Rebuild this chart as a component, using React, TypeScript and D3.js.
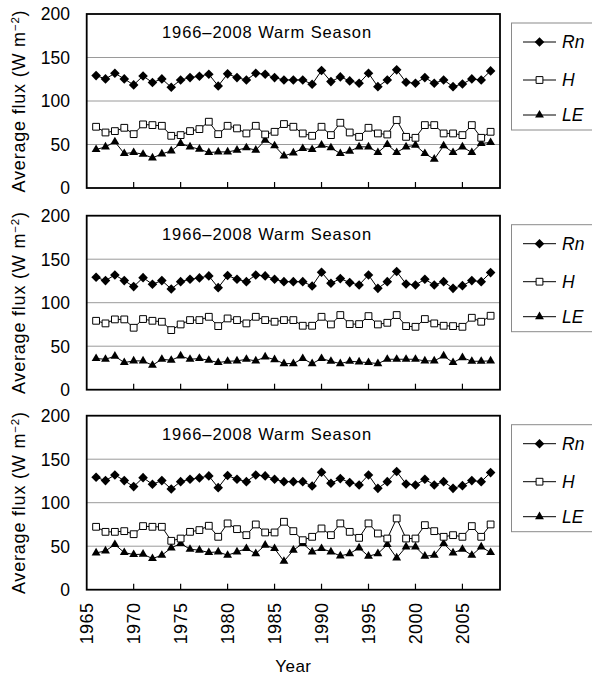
import React from 'react';
import * as d3 from 'd3';

// Annual warm-season averages, 1966–2008
const years = [
  1966, 1967, 1968, 1969, 1970, 1971, 1972, 1973, 1974, 1975, 1976, 1977, 1978, 1979, 1980,
  1981, 1982, 1983, 1984, 1985, 1986, 1987, 1988, 1989, 1990, 1991, 1992, 1993, 1994, 1995,
  1996, 1997, 1998, 1999, 2000, 2001, 2002, 2003, 2004, 2005, 2006, 2007, 2008,
];

// Net radiation (shared by all three panels)
const rn = [
  129.2, 125.4, 131.9, 125.4, 118.5, 128.8, 121.2, 125.4, 115.8, 124.2, 126.9, 128.5, 130.8, 117.3, 131.2,
  126.9, 124.2, 131.9, 130.8, 126.9, 124.2, 124.2, 124.2, 119.2, 135.0, 122.3, 127.7, 123.1, 120.4, 131.9,
  116.5, 124.2, 135.8, 121.5, 120.4, 126.9, 120.4, 124.2, 116.5, 119.6, 125.4, 124.2, 134.6,
];

// Panel 1
const h1 = [
  70.4, 63.8, 65.4, 69.2, 61.9, 73.1, 72.3, 71.5, 60.0, 60.8, 65.4, 67.7, 76.2, 61.9, 71.5,
  68.5, 62.7, 71.5, 61.5, 64.6, 73.5, 70.4, 62.7, 60.0, 70.4, 60.8, 75.0, 63.8, 58.8, 69.2,
  62.7, 61.5, 78.1, 58.8, 57.7, 72.3, 72.3, 62.7, 62.7, 60.8, 72.3, 57.7, 64.6,
];
const le1 = [
  44.2, 47.3, 53.1, 39.6, 40.8, 38.8, 34.6, 39.2, 42.7, 51.2, 47.3, 44.6, 40.8, 41.5, 41.5,
  43.5, 46.2, 43.5, 55.0, 48.5, 36.9, 40.4, 45.4, 44.2, 49.2, 46.2, 39.6, 42.3, 47.3, 47.3,
  40.8, 50.0, 40.8, 47.3, 49.2, 39.6, 33.1, 48.5, 40.8, 47.3, 40.8, 51.2, 52.3,
];

// Panel 2
const h2 = [
  79.2, 76.2, 80.8, 80.8, 71.2, 81.2, 79.2, 78.1, 68.5, 75.0, 80.0, 80.0, 83.8, 73.1, 81.9,
  80.0, 76.2, 83.8, 80.0, 78.1, 80.0, 80.0, 73.5, 73.5, 83.8, 75.0, 85.8, 75.4, 75.4, 84.6,
  75.0, 76.9, 85.8, 73.1, 72.3, 81.2, 76.2, 73.5, 73.1, 72.3, 82.7, 78.1, 85.0,
];
const le2 = [
  35.8, 35.0, 38.5, 31.2, 33.1, 33.1, 28.1, 35.0, 33.8, 38.8, 35.0, 35.8, 33.8, 31.2, 32.7,
  33.1, 35.0, 33.1, 37.7, 34.6, 30.0, 30.0, 35.8, 30.0, 35.8, 32.7, 30.0, 32.7, 31.9, 31.2,
  30.0, 35.0, 35.0, 35.0, 35.0, 33.1, 33.1, 38.8, 31.2, 36.9, 32.7, 32.7, 33.1,
];

// Panel 3
const h3 = [
  72.3, 66.5, 66.5, 67.3, 63.8, 73.1, 72.3, 72.3, 56.2, 58.8, 66.5, 68.5, 73.5, 60.8, 76.2,
  69.6, 62.7, 75.0, 65.8, 65.8, 78.1, 67.3, 56.9, 60.8, 70.4, 62.7, 76.2, 66.5, 59.6, 76.2,
  64.6, 58.8, 81.9, 58.8, 58.8, 74.2, 67.3, 60.8, 62.7, 60.8, 73.1, 60.8, 75.0,
];
const le3 = [
  42.3, 44.6, 51.9, 42.7, 40.4, 40.8, 35.8, 39.6, 48.1, 53.1, 46.5, 45.4, 42.7, 43.5, 39.6,
  43.5, 47.3, 41.5, 51.2, 47.3, 32.7, 45.4, 53.1, 43.5, 47.3, 43.5, 38.8, 41.5, 48.1, 38.5,
  41.5, 51.9, 36.5, 49.2, 49.2, 38.5, 39.6, 53.1, 42.3, 46.5, 39.6, 49.2, 42.7,
];

const panelTitle = '1966\u20132008 Warm Season';
const yTicks = [0, 50, 100, 150, 200];
const xTicks = [1965, 1970, 1975, 1980, 1985, 1990, 1995, 2000, 2005];
const seriesNames = ['Rn', 'H', 'LE'];

const panelData = [
  { h: h1, le: le1 },
  { h: h2, le: le2 },
  { h: h3, le: le3 },
];

const W = 592;
const HGT = 681;
const plotLeft = 86.7;
const plotRight = 500;
const panelTops = [14, 215.7, 415.7];
const panelH = 174;
const FONT = '"Liberation Sans", Arial, sans-serif';

const x = d3.scaleLinear().domain([1965, 2009]).range([plotLeft, plotRight]);

const diamond = d3.symbol().type(d3.symbolSquare).size(46)()!;
const square = d3.symbol().type(d3.symbolSquare).size(46)()!;
const triangle = d3.symbol().type(d3.symbolTriangle).size(34)()!;

type Kind = 'Rn' | 'H' | 'LE';

function Marker({ kind, cx, cy }: { kind: Kind; cx: number; cy: number }) {
  if (kind === 'Rn') {
    return <path d={diamond} transform={`translate(${cx},${cy}) rotate(45)`} fill="#000" />;
  }
  if (kind === 'H') {
    return (
      <path d={square} transform={`translate(${cx},${cy})`} fill="#fff" stroke="#000" strokeWidth={1} />
    );
  }
  return <path d={triangle} transform={`translate(${cx},${cy})`} fill="#000" />;
}

function Series({ values, kind, y }: { values: number[]; kind: Kind; y: d3.ScaleLinear<number, number> }) {
  const pts = years.map((yr, i) => [x(yr), y(values[i])] as [number, number]);
  const line = d3.line()(pts) || '';
  return (
    <g>
      <path d={line} fill="none" stroke="#000" strokeWidth={1} />
      {pts.map(([cx, cy], i) => (
        <Marker key={i} kind={kind} cx={cx} cy={cy} />
      ))}
    </g>
  );
}

function Panel({ index }: { index: number }) {
  const top = panelTops[index];
  const bottom = top + panelH;
  const y = d3.scaleLinear().domain([0, 200]).range([bottom, top]);
  const { h, le } = panelData[index];
  const legendTop = top + 9;
  const rowOffsets = [28, 66, 101];
  const kinds: Kind[] = ['Rn', 'H', 'LE'];
  return (
    <g>
      {yTicks
        .filter((t) => t > 0 && t < 200)
        .map((t) => (
          <line key={t} x1={plotLeft} x2={plotRight} y1={y(t)} y2={y(t)} stroke="#9a9a9a" strokeWidth={1} />
        ))}
      {xTicks
        .filter((t) => t > 1965)
        .map((t) => (
          <line key={t} x1={x(t)} x2={x(t)} y1={bottom} y2={bottom - 6} stroke="#000" strokeWidth={1.2} />
        ))}
      {yTicks.map((t) => (
        <text key={t} x={70} y={y(t)} dy="0.36em" textAnchor="end" fontSize={17.5} fontFamily={FONT} fill="#000">
          {t}
        </text>
      ))}
      <text
        transform={`translate(25,${(top + bottom) / 2}) rotate(-90)`}
        textAnchor="middle"
        fontSize={18}
        fontFamily={FONT}
        fill="#000"
        letterSpacing={0.8}
      >
        Average flux (W m
        <tspan dy={-6} fontSize={11.5}>
          −2
        </tspan>
        <tspan dy={6}>)</tspan>
      </text>
      <text x={162} y={top + 24} fontSize={16.5} fontFamily={FONT} fill="#000" letterSpacing={0.9}>
        {panelTitle}
      </text>
      <Series values={le} kind="LE" y={y} />
      <Series values={h} kind="H" y={y} />
      <Series values={rn} kind="Rn" y={y} />
      <rect
        x={plotLeft}
        y={top}
        width={plotRight - plotLeft}
        height={panelH}
        fill="none"
        stroke="#000"
        strokeWidth={1.8}
      />
      <rect x={511.5} y={legendTop} width={95} height={107} fill="#fff" stroke="#8a8a8a" strokeWidth={1} />
      {kinds.map((k, i) => {
        const ry = top + rowOffsets[i];
        return (
          <g key={k}>
            <line x1={523} x2={556} y1={ry} y2={ry} stroke="#000" strokeWidth={1} />
            <Marker kind={k} cx={539.5} cy={ry} />
            <text
              x={562}
              y={ry}
              dy="0.36em"
              fontSize={17.5}
              fontStyle="italic"
              fontFamily={FONT}
              fill="#000"
            >
              {seriesNames[i]}
            </text>
          </g>
        );
      })}
    </g>
  );
}

export default function App() {
  const lastBottom = panelTops[2] + panelH;
  return (
    <svg
      width={W}
      height={HGT}
      viewBox={`0 0 ${W} ${HGT}`}
      style={{ position: 'absolute', left: 0, top: 0, background: '#fff' }}
    >
      <rect x={0} y={0} width={W} height={HGT} fill="#fff" />
      {[0, 1, 2].map((i) => (
        <Panel key={i} index={i} />
      ))}
      {xTicks.map((t) => (
        <text
          key={t}
          transform={`translate(${x(t)},${lastBottom + 13}) rotate(-90)`}
          textAnchor="end"
          dy="0.36em"
          fontSize={18}
          fontFamily={FONT}
          fill="#000"
          letterSpacing={0.4}
        >
          {t}
        </text>
      ))}
      <text
        x={(plotLeft + plotRight) / 2}
        y={672}
        textAnchor="middle"
        fontSize={17}
        fontFamily={FONT}
        fill="#000"
        letterSpacing={0.5}
      >
        Year
      </text>
    </svg>
  );
}
